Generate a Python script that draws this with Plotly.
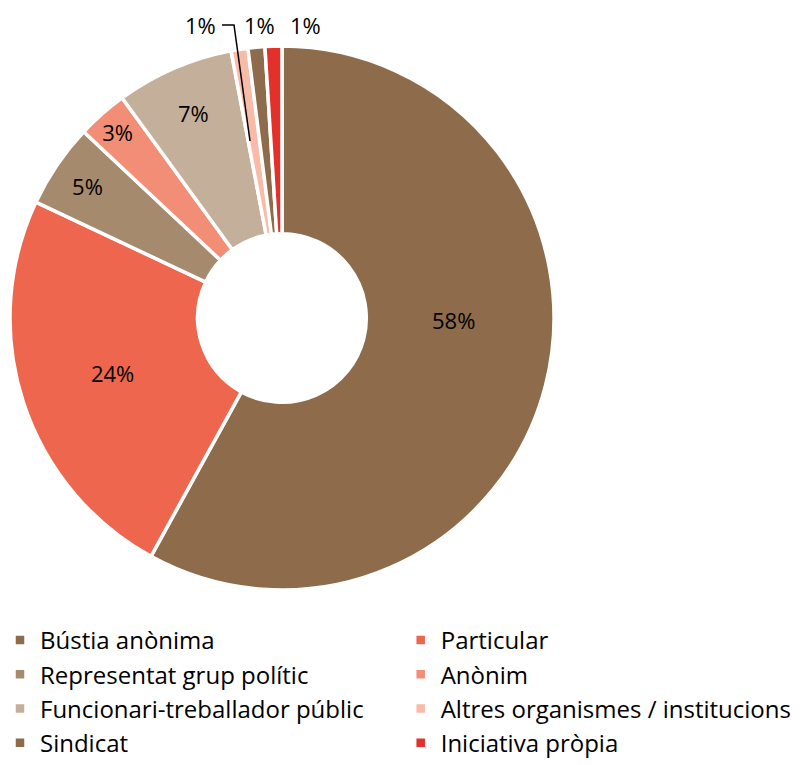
import plotly.graph_objects as go

# Origen de les denúncies (%)
categories = ['Bústia anònima', 'Particular', 'Representat grup polític', 'Anònim',
              'Funcionari-treballador públic', 'Altres organismes / institucions',
              'Sindicat', 'Iniciativa pròpia']
values = [58, 24, 5, 3, 7, 1, 1, 1]
colors = ['#8D6B4B', '#EE664D', '#A68A6E', '#F28E76',
          '#C4AF9A', '#F7BBA8', '#8D6B4B', '#E3302A']

W, H = 803, 765
FONT = 'Open Sans, sans-serif'

# the big slice and the 1% slices get their labels as annotations,
# the rest sit inside the ring
biggest = values.index(max(values))
small = [i for i, v in enumerate(values) if v <= 1]
text_pos = ['none' if (i == biggest or i in small) else 'inside' for i in range(len(values))]

fig = go.Figure(
    go.Pie(
        labels=categories,
        values=values,
        sort=False,
        direction='clockwise',
        rotation=0,
        hole=0.31,
        marker=dict(colors=colors, line=dict(color='white', width=3.5)),
        texttemplate='%{value}%',
        textposition=text_pos,
        insidetextorientation='horizontal',
        textfont=dict(size=22, color='black', family=FONT),
        domain=dict(x=[10 / W, 554 / W], y=[(H - 590) / H, (H - 46) / H]),
        hoverinfo='label+percent',
    )
)

# label of the big slice
fig.add_annotation(
    x=453 / W, y=(H - 320) / H, xref='paper', yref='paper',
    xanchor='center', yanchor='middle',
    text=f'{values[biggest]}%', showarrow=False,
    font=dict(size=22, color='black', family=FONT),
)

# labels for the 1% slices, placed along the top
label_x = [200, 259, 305]
for px, i in zip(label_x, small):
    fig.add_annotation(
        x=px / W, y=(H - 25) / H, xref='paper', yref='paper',
        xanchor='center', yanchor='middle',
        text=f'{values[i]}%', showarrow=False,
        font=dict(size=22, color='black', family=FONT),
    )

# leader line for "Altres organismes / institucions"
fig.add_shape(
    type='path', xref='paper', yref='paper',
    path=f'M {222 / W} {(H - 25) / H} L {234 / W} {(H - 25) / H} L {250 / W} {(H - 141) / H}',
    line=dict(color='black', width=1.5),
)

fig.update_layout(
    width=W,
    height=H,
    margin=dict(l=0, r=0, t=0, b=0, autoexpand=False),
    paper_bgcolor='white',
    font=dict(family=FONT, color='black'),
    showlegend=True,
    legend=dict(
        orientation='h',
        x=0,
        xanchor='left',
        y=(H - 618) / H,
        yanchor='top',
        entrywidth=0.499,
        entrywidthmode='fraction',
        itemwidth=30,
        font=dict(size=24, color='black', family=FONT),
    ),
)

fig.write_html("out.html", config={'displayModeBar': False},
               post_script="document.body.style.margin='0';")
